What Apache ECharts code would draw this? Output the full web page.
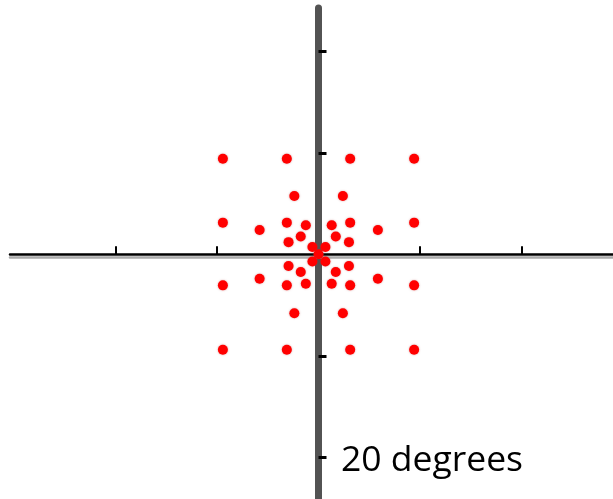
<!DOCTYPE html>
<html>
<head>
<meta charset="utf-8">
<script src="https://cdn.jsdelivr.net/npm/echarts@6/dist/echarts.min.js"></script>
<style>
html,body{margin:0;padding:0;background:#fff;}
#chart{width:613px;height:499px;}
</style>
</head>
<body>
<div id="chart"></div>
<script>
// Test point locations, in degrees of visual angle
const pointX = [
  -9.42, -3.12, 3.12, 9.42,
  -2.38, 2.40,
  -9.42, -3.12, 3.12, 9.42,
  -1.25, 1.30,
  -5.80, 5.85,
  -1.75, 1.70,
  -2.95, 3.00,
  -0.60, 0.68,
  0,
  -0.60, 0.68,
  -2.95, 3.00,
  -1.75, 1.70,
  -5.80, 5.85,
  -1.25, 1.30,
  -9.42, -3.12, 3.12, 9.42,
  -2.38, 2.40,
  -9.42, -3.12, 3.12, 9.42
];
const pointY = [
  9.42, 9.42, 9.42, 9.42,
  5.75, 5.75,
  3.12, 3.12, 3.12, 3.12,
  2.87, 2.87,
  2.40, 2.40,
  1.75, 1.75,
  1.20, 1.20,
  0.72, 0.72,
  0,
  -0.70, -0.70,
  -1.15, -1.15,
  -1.75, -1.75,
  -2.40, -2.40,
  -2.90, -2.90,
  -3.06, -3.06, -3.06, -3.06,
  -5.80, -5.80,
  -9.40, -9.40, -9.40, -9.40
];
const tickValues = [-20, -10, 10, 20];
const scaleLabel = '20 degrees';

const points = pointX.map((x, i) => [x, pointY[i]]);

const chart = echarts.init(document.getElementById('chart'));
chart.setOption({
  animation: false,
  backgroundColor: '#ffffff',
  grid: { left: 10, top: 8, right: 0, bottom: 0, containLabel: false },
  xAxis: {
    type: 'value',
    min: -30.39, max: 29.01,
    splitLine: { show: false },
    axisLabel: { show: false },
    axisLine: {
      show: true, onZero: true,
      lineStyle: { color: '#000', width: 2.5, shadowColor: '#aaaaaa', shadowOffsetY: 3, shadowBlur: 0 }
    },
    axisTick: {
      show: true, inside: true, length: 8, customValues: tickValues,
      lineStyle: { color: '#000', width: 2 }
    }
  },
  yAxis: {
    type: 'value',
    min: -24.11, max: 24.27,
    splitLine: { show: false },
    axisLabel: { show: false },
    axisLine: {
      show: true, onZero: true,
      lineStyle: { color: '#535353', width: 7 }
    },
    axisTick: {
      show: true, inside: true, length: 8, customValues: tickValues,
      lineStyle: { color: '#000', width: 3 }
    }
  },
  series: [{
    type: 'scatter',
    data: points,
    symbol: 'circle',
    symbolSize: 10,
    itemStyle: { color: '#ff0000', opacity: 1, shadowColor: 'rgba(180,60,60,0.5)', shadowBlur: 2 },
    z: 5
  }],
  graphic: [{
    type: 'text',
    left: 341,
    top: 443,
    style: {
      text: scaleLabel,
      font: '35.5px "Open Sans"',
      fill: '#000'
    }
  }]
});
</script>
</body>
</html>
